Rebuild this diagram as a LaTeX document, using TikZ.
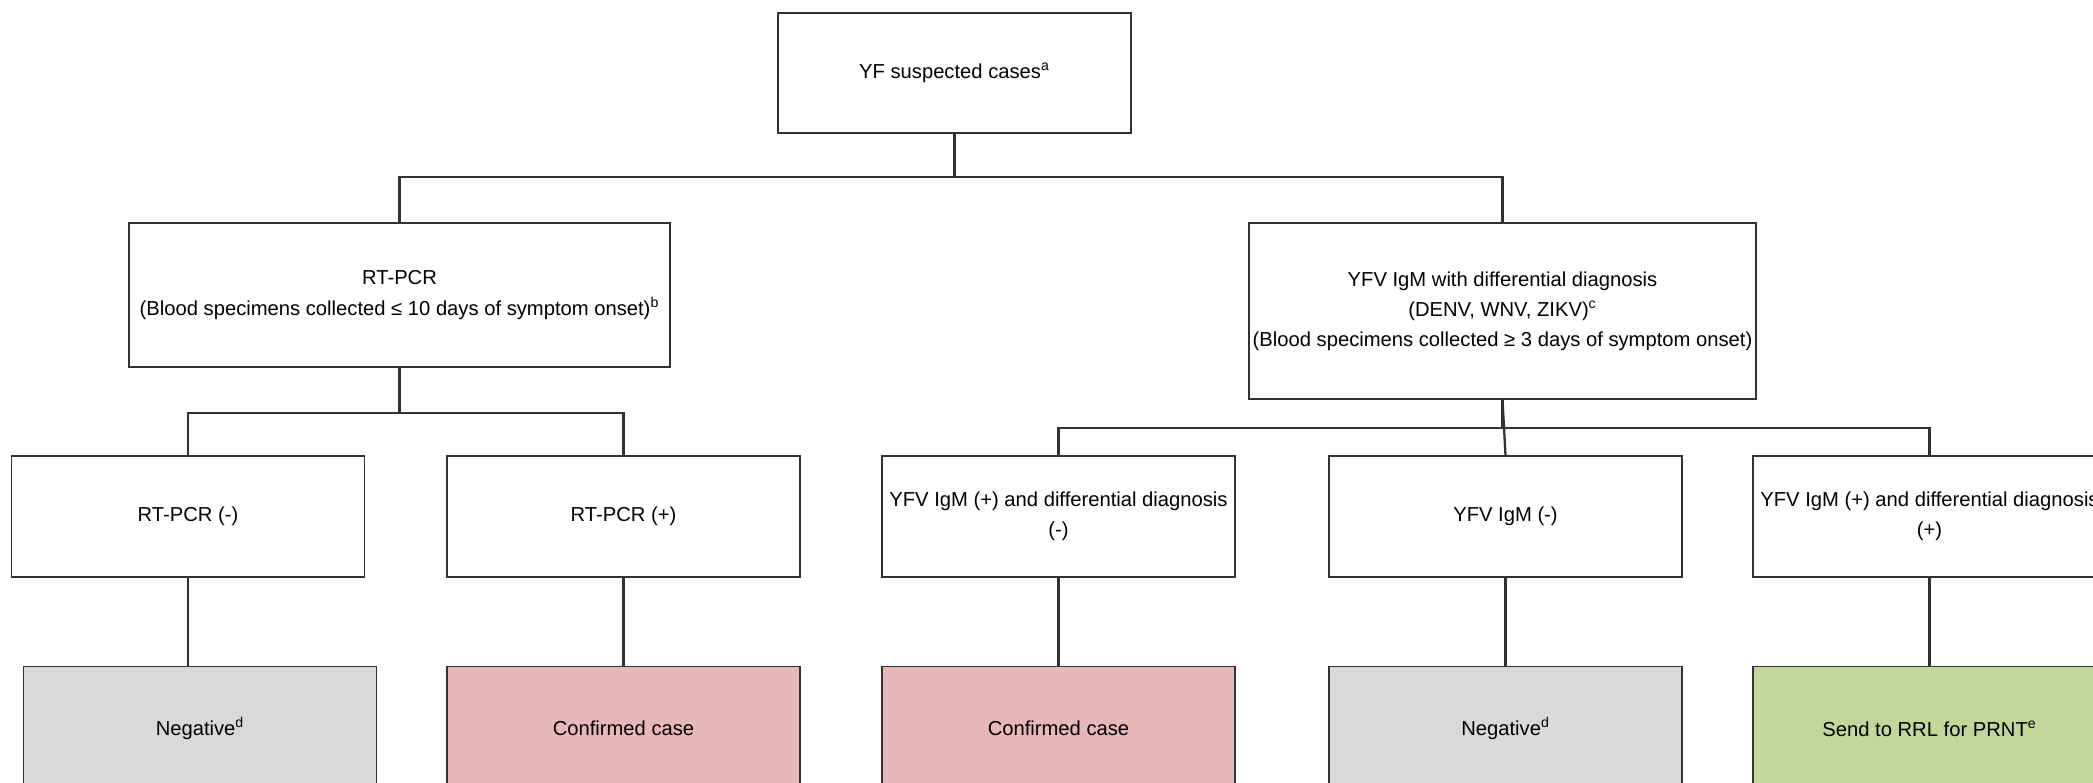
\documentclass[tikz,border=0pt]{standalone}
\usepackage{fontspec}
\setmainfont{Liberation Sans}
\usetikzlibrary{positioning}
\definecolor{linegray}{HTML}{333333}
\definecolor{negfill}{HTML}{D9D9D9}
\definecolor{posfill}{HTML}{E6B9B8}
\definecolor{prntfill}{HTML}{C4D79B}

\begin{document}
\begin{tikzpicture}[
  x=0.02cm, y=-0.02cm,
  every node/.style={font=\fontsize{11.5}{17.2}\selectfont},
  testbox/.style={rectangle, draw=linegray, line width=0.9pt, fill=white,
    align=center, inner sep=2pt},
  resultbox/.style={testbox, minimum width=7.06cm, minimum height=2.42cm},
  outcome/.style={resultbox, minimum height=2.48cm},
  link/.style={draw=linegray, line width=1.3pt},
]
\useasboundingbox (0,0) rectangle (2093,782);
\clip (0,0) rectangle (2093,782);
\fill[white] (0,0) rectangle (2093,782);

% Screening
\node[testbox, minimum width=7.06cm, minimum height=2.4cm] (suspect) at (954.5,73) {YF suspected cases\textsuperscript{a}};

% Tests
\node[testbox, minimum width=10.82cm, minimum height=2.88cm] (rtpcr) at (399.5,295)
  {RT-PCR\\(Blood specimens collected ≤ 10 days of symptom onset)\textsuperscript{b}};
\node[testbox, minimum width=10.02cm, minimum height=3.52cm] (igm) at (1502.5,311)
  {YFV IgM with differential diagnosis\\(DENV, WNV, ZIKV)\textsuperscript{c}\\(Blood specimens collected ≥ 3 days of symptom onset)};

% Results
\node[resultbox] (rtneg) at (188,516.5) {RT-PCR (-)};
\node[resultbox] (rtpos) at (623.5,516.5) {RT-PCR (+)};
\node[resultbox] (igmpn) at (1058.5,516.5) {YFV IgM (+) and differential diagnosis\\(-)};
\node[resultbox] (igmneg) at (1505.5,516.5) {YFV IgM (-)};
\node[resultbox] (igmpp) at (1929.5,516.5) {YFV IgM (+) and differential diagnosis\\(+)};

% Outcomes
\node[outcome, fill=negfill, below=1.76cm of rtneg, xshift=0.24cm] (neg1) {Negative\textsuperscript{d}};
\node[outcome, fill=posfill, below=1.76cm of rtpos] (conf1) {Confirmed case};
\node[outcome, fill=posfill, below=1.76cm of igmpn] (conf2) {Confirmed case};
\node[outcome, fill=negfill, below=1.76cm of igmneg] (neg2) {Negative\textsuperscript{d}};
\node[outcome, fill=prntfill, below=1.76cm of igmpp] (rrl) {Send to RRL for PRNT\textsuperscript{e}};

% Connectors
\draw[link] (suspect.south) -- ++(0,43) coordinate (j0) -| (rtpcr.north);
\draw[link] (j0) -| (igm.north);
\draw[link] (rtpcr.south) -- ++(0,45) coordinate (j1) -| (rtneg.north);
\draw[link] (j1) -| (rtpos.north);
\draw[link] (igm.south) -- ++(0,28) coordinate (j2) -| (igmpn.north);
\draw[link] (j2) -| (igmpp.north);
\draw[link] (igm.south) -- (igmneg.north);
\draw[link] (rtneg.south) -- (rtneg.south |- neg1.north);
\foreach \a/\b in {rtpos/conf1, igmpn/conf2, igmneg/neg2, igmpp/rrl}
  \draw[link] (\a.south) -- (\b.north);
\end{tikzpicture}
\end{document}
